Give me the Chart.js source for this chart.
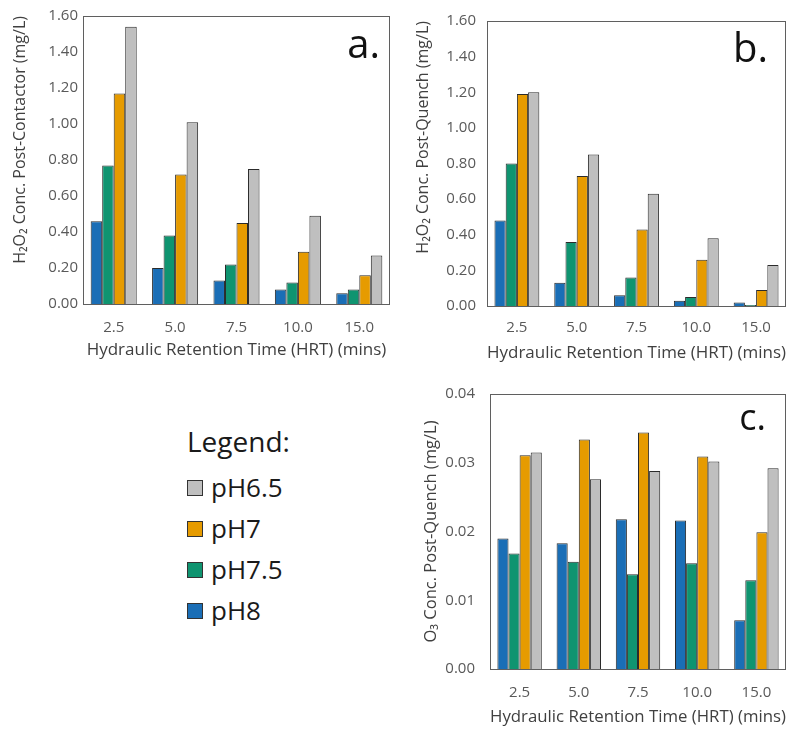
<!DOCTYPE html>
<html>
<head>
<meta charset="utf-8">
<script src="https://cdn.jsdelivr.net/npm/chart.js@4/dist/chart.umd.min.js"></script>
<style>
  html, body { margin: 0; padding: 0; background: #ffffff; }
  body { width: 789px; height: 729px; position: relative; overflow: hidden; font-family: "Open Sans", sans-serif; }
  canvas { position: absolute; }
  #legend { position: absolute; left: 187px; top: 424px; color: #1a1a1a; }
  #legend .title { font-size: 28px; line-height: 34px; margin-bottom: 9px; }
  #legend .item { display: flex; align-items: center; font-size: 26px; height: 41px; line-height: 41px; }
  #legend .sw { width: 16px; height: 16px; border: 1px solid #333; margin-right: 8px; box-sizing: border-box; }
</style>
</head>
<body>
<canvas id="chartA" width="400" height="370" style="left:0px;top:0px;width:400px;height:370px"></canvas>
<canvas id="chartB" width="389" height="370" style="left:400px;top:0px;width:389px;height:370px"></canvas>
<canvas id="chartC" width="389" height="359" style="left:400px;top:370px;width:389px;height:359px"></canvas>
<div id="legend"></div>
<script>
// ---- Data ----
const hrtLabels = ['2.5', '5.0', '7.5', '10.0', '15.0'];
const seriesNames = ['pH8', 'pH7.5', 'pH7', 'pH6.5'];
const seriesColors = ['#1a6eb6', '#0f9470', '#e69b00', '#bfbfbf'];
const legendOrder = ['pH6.5', 'pH7', 'pH7.5', 'pH8'];

// Panel a: H2O2 post-contactor (mg/L)
const aPH8  = [0.46, 0.20, 0.13, 0.08, 0.06];
const aPH75 = [0.77, 0.38, 0.22, 0.12, 0.08];
const aPH7  = [1.17, 0.72, 0.45, 0.29, 0.16];
const aPH65 = [1.54, 1.01, 0.75, 0.49, 0.27];

// Panel b: H2O2 post-quench (mg/L)
const bPH8  = [0.48, 0.13, 0.06, 0.03, 0.02];
const bPH75 = [0.80, 0.36, 0.16, 0.05, 0.005];
const bPH7  = [1.19, 0.73, 0.43, 0.26, 0.09];
const bPH65 = [1.20, 0.85, 0.63, 0.38, 0.23];

// Panel c: O3 post-quench (mg/L)
const cPH8  = [0.0190, 0.0183, 0.0218, 0.0216, 0.0071];
const cPH75 = [0.0168, 0.0156, 0.0138, 0.0154, 0.0129];
const cPH7  = [0.0311, 0.0334, 0.0344, 0.0309, 0.0199];
const cPH65 = [0.0315, 0.0276, 0.0288, 0.0302, 0.0292];

const xTitle = 'Hydraulic Retention Time (HRT) (mins)';
const FONT = '"Open Sans", sans-serif';

// ---- Plugins ----
const frameAndLabel = {
  id: 'frameAndLabel',
  afterDatasetsDraw(chart, args, opts) {
    const ctx = chart.ctx;
    const ca = chart.chartArea;
    ctx.save();
    ctx.strokeStyle = '#5f5f5f';
    ctx.lineWidth = 1;
    ctx.strokeRect(Math.round(ca.left) + 0.5, Math.round(ca.top) + 0.5,
                   Math.round(ca.right - ca.left) - 1, Math.round(ca.bottom - ca.top));
    ctx.fillStyle = '#111111';
    ctx.font = opts.size + 'px ' + FONT;
    ctx.textAlign = 'right';
    ctx.textBaseline = 'alphabetic';
    ctx.fillText(opts.text, ca.right - opts.dx, ca.top + opts.dy);
    ctx.restore();
  }
};

function makeDatasets(arrs) {
  return arrs.map((d, i) => ({
    label: seriesNames[i],
    data: d,
    backgroundColor: seriesColors[i],
    borderColor: '#2b2b2b',
    borderWidth: 1,
    borderSkipped: 'bottom',
    categoryPercentage: 0.75,
    barPercentage: 1.0
  }));
}

function makeChart(id, arrs, cfg) {
  return new Chart(document.getElementById(id), {
    type: 'bar',
    data: { labels: hrtLabels, datasets: makeDatasets(arrs) },
    plugins: [frameAndLabel],
    options: {
      responsive: false,
      animation: false,
      devicePixelRatio: 1,
      layout: { padding: { left: 0, top: cfg.padTop, right: cfg.padRight, bottom: 0 } },
      plugins: {
        legend: { display: false },
        tooltip: { enabled: false },
        frameAndLabel: cfg.label
      },
      scales: {
        x: {
          grid: { display: false, drawTicks: false },
          border: { display: false },
          ticks: { color: '#595959', font: { family: FONT, size: 15 }, padding: cfg.xTickPad, maxRotation: 0 },
          title: { display: true, text: xTitle, color: '#404040',
                   font: { family: FONT, size: 17 }, padding: { top: 0, bottom: cfg.xTitlePad } },
          afterFit(scale) { scale.height = cfg.xHeight; }
        },
        y: {
          min: 0, max: cfg.yMax,
          grid: { display: false, drawTicks: false },
          border: { display: false },
          ticks: { stepSize: cfg.yStep, color: '#595959', font: { family: FONT, size: 15 },
                   padding: cfg.yTickPad, callback: v => Number(v).toFixed(2) },
          title: { display: true, text: cfg.yTitle, color: '#404040', align: cfg.yAlign,
                   font: { family: FONT, size: cfg.yTitleSize }, padding: { top: cfg.yTitlePad, bottom: 0 } },
          afterFit(scale) { scale.width = cfg.yWidth; }
        }
      }
    }
  });
}

makeChart('chartA', [aPH8, aPH75, aPH7, aPH65], {
  padTop: 16, padRight: 10, xHeight: 66, yWidth: 83,
  xTickPad: 15, xTitlePad: 10, yTickPad: 5, yTitlePad: 11, yTitleSize: 16, yAlign: 'end',
  yMax: 1.6, yStep: 0.2, yTitle: 'H\u2082O\u2082 Conc. Post-Contactor (mg/L)',
  label: { text: 'a.', size: 40, dx: 10, dy: 42 }
});

makeChart('chartB', [bPH8, bPH75, bPH7, bPH65], {
  padTop: 21, padRight: 3, xHeight: 64, yWidth: 87,
  xTickPad: 13, xTitlePad: 7, yTickPad: 11, yTitlePad: 14, yTitleSize: 16, yAlign: 'end',
  yMax: 1.6, yStep: 0.2, yTitle: 'H\u2082O\u2082 Conc. Post-Quench (mg/L)',
  label: { text: 'b.', size: 40, dx: 18, dy: 41 }
});

makeChart('chartC', [cPH8, cPH75, cPH7, cPH65], {
  padTop: 14, padRight: 3, xHeight: 60, yWidth: 90,
  xTickPad: 15, xTitlePad: 2, yTickPad: 15, yTitlePad: 21, yTitleSize: 16.5, yAlign: 'center',
  yMax: 0.04, yStep: 0.01, yTitle: 'O\u2083 Conc. Post-Quench (mg/L)',
  label: { text: 'c.', size: 36, dx: 20, dy: 36 }
});

// ---- Legend (HTML) ----
const legendEl = document.getElementById('legend');
const t = document.createElement('div');
t.className = 'title';
t.textContent = 'Legend:';
legendEl.appendChild(t);
legendOrder.forEach(name => {
  const idx = seriesNames.indexOf(name);
  const row = document.createElement('div');
  row.className = 'item';
  const sw = document.createElement('span');
  sw.className = 'sw';
  sw.style.background = seriesColors[idx];
  const tx = document.createElement('span');
  tx.textContent = name;
  row.appendChild(sw);
  row.appendChild(tx);
  legendEl.appendChild(row);
});
</script>
</body>
</html>
